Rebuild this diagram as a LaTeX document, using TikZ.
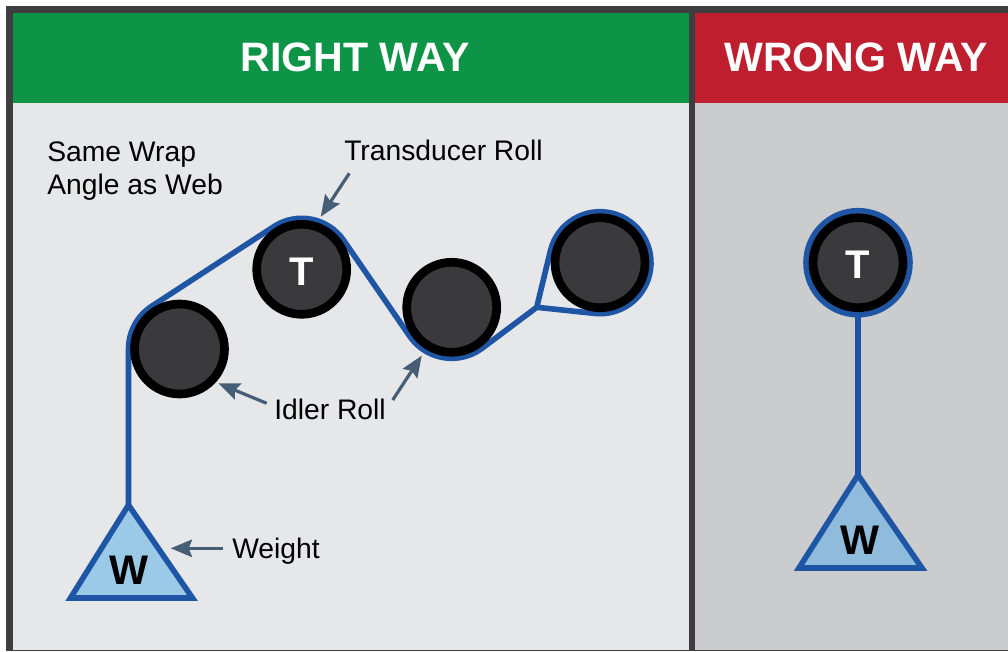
\documentclass[tikz,border=0pt]{standalone}
\usepackage{fontspec}
\setmainfont{Liberation Sans}
\definecolor{frameC}{HTML}{3E3E40}
\definecolor{panelL}{HTML}{E6E7E9}
\definecolor{panelR}{HTML}{CBCCCE}
\definecolor{headG}{HTML}{0E9447}
\definecolor{headR}{HTML}{BE1E2D}
\definecolor{webC}{HTML}{1F55A5}
\definecolor{rollC}{HTML}{3A3A3C}
\definecolor{weightC}{HTML}{9BC9E8}
\definecolor{weightD}{HTML}{8FBBDD}
\definecolor{callC}{HTML}{465E75}
\usetikzlibrary{arrows.meta,calc}
\newcommand{\rollT}{\raisebox{-1.5pt}[\height][\depth]{T}}
\tikzset{
  x=0.75pt,y=0.75pt,
  roll/.style={circle,draw=black,line width=6.5pt,fill=rollC,minimum size=67.5pt,inner sep=0pt,text=white,font=\fontsize{30}{30}\selectfont\bfseries},
  web/.style={draw=webC,line width=4.2pt,line join=round},
  weightbox/.style={draw=webC,line width=4.2pt,line join=miter},
  weightlabel/.style={font=\fontsize{31}{31}\selectfont\bfseries,text=black},
  call/.style={draw=callC,line width=2.4pt,-{Stealth[length=16pt,width=13pt,inset=2.5pt]}},
  lab/.style={font=\fontsize{21.2}{26}\selectfont,text=black,inner sep=0pt},
  head/.style={font=\fontsize{30.8}{31}\selectfont\bfseries,text=white,inner sep=0pt}
}
\begin{document}
\begin{tikzpicture}
\useasboundingbox (0,0) rectangle (1008,651);
\fill[white] (0,0) rectangle (1008,651);
% frame and panels
\fill[frameC] (6,0) rectangle (1008,645);
\fill[panelL] (13,0.8) rectangle (689,548);
\fill[panelR] (695,0.8) rectangle (1008,548);
\fill[headG] (13,548) rectangle (689,638);
\fill[headR] (695,548) rectangle (1008,638);
\node[head,anchor=base] (rw) at (355,579.3) {RIGHT WAY};
\node[head,anchor=base] (ww) at (856,579.3) {WRONG WAY};
% positions
\coordinate (c1) at (179.5,302);
\coordinate (c2) at (301.7,381.7);
\coordinate (c3) at (451.7,343.7);
\coordinate (c4) at (600,388.3);
\coordinate (c5) at (858,388.3);
\coordinate (j) at (536.7,343.7);
\coordinate (wtop) at (128.5,146);
\coordinate (wtopb) at (858,176);
% weights
\fill[weightC] (wtop) -- (192.5,53) -- (70.5,53) -- cycle;
\draw[weightbox] (wtop) -- (192.5,53) -- (70.5,53) -- cycle;
\node[weightlabel] (w1) at (129.3,81) {W};
\fill[weightD] (wtopb) -- (922,83) -- (799,83) -- cycle;
\draw[weightbox] (wtopb) -- (922,83) -- (799,83) -- cycle;
\node[weightlabel] (w2) at (860,111) {W};
% web, left
\draw[web] (wtop) -- (128.5,302) arc[start angle=180,end angle=123.1,radius=51]
  -- ($(c2)+(123.1:51)$) arc[start angle=123.1,end angle=34.6,radius=51]
  -- ($(c3)+(214.6:51)$) arc[start angle=214.6,end angle=306.87,radius=51]
  -- (j) -- ($(c4)+(166.4:51)$) arc[start angle=166.4,end angle=-96,radius=51] -- (j);
% web, right
\draw[web] (c5) circle[radius=52];
\draw[web] ($(c5)+(0,-52)$) -- (wtopb);
% rolls
\node[roll] (r1) at (c1) {};
\node[roll] (r2) at (c2) {\rollT};
\node[roll] (r3) at (c3) {};
\node[roll] (r4) at (c4) {};
\node[roll] (r5) at (c5) {\rollT};
% labels
\node[lab,anchor=base west] (swa) at (47,489.6) {Same Wrap};
\node[lab,anchor=base west] (swb) at (47,456) {Angle as Web};
\node[lab,anchor=base west] (td) at (344,490.3) {Transducer Roll};
\node[lab,anchor=base west] (idl) at (274,232) {Idler Roll};
\node[lab,anchor=base west] (wl) at (232,93) {Weight};
% callouts
\coordinate (a1s) at (349.3,477.7);
\coordinate (a1e) at (320.7,434.3);
\coordinate (a2s) at (266.7,247.7);
\coordinate (a2e) at (218.3,267.7);
\coordinate (a3s) at (392.7,251);
\coordinate (a3e) at (421.7,295.3);
\coordinate (a4s) at (223.3,102.7);
\coordinate (a4e) at (170.7,102.7);
\draw[call] (a1s) -- (a1e);
\draw[call] (a2s) -- (a2e);
\draw[call] (a3s) -- (a3e);
\draw[call] (a4s) -- (a4e);
\end{tikzpicture}
\end{document}
